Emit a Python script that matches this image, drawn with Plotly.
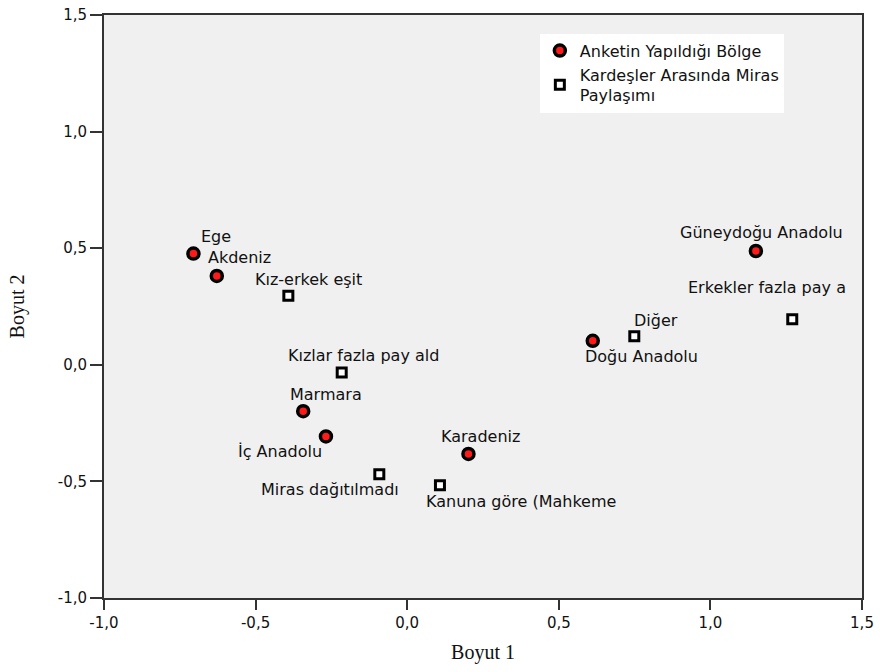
import plotly.graph_objects as go

# Region points (Anketin Yapıldığı Bölge)
region_names = ["Ege", "Akdeniz", "Marmara", "İç Anadolu", "Karadeniz",
                "Doğu Anadolu", "Güneydoğu Anadolu"]
region_x = [-0.705, -0.628, -0.343, -0.268, 0.202, 0.612, 1.150]
region_y = [0.477, 0.381, -0.199, -0.307, -0.382, 0.103, 0.488]

# Inheritance sharing points (Kardeşler Arasında Miras Paylaşımı)
share_names = ["Kız-erkek eşit", "Kızlar fazla pay ald", "Miras dağıtılmadı",
               "Kanuna göre (Mahkeme", "Diğer", "Erkekler fazla pay a"]
share_x = [-0.392, -0.216, -0.092, 0.108, 0.749, 1.270]
share_y = [0.296, -0.033, -0.469, -0.516, 0.122, 0.195]

tick_vals = [-1.0, -0.5, 0.0, 0.5, 1.0, 1.5]
tick_text = ["-1,0", "-0,5", "0,0", "0,5", "1,0", "1,5"]

# label offsets in pixels (dx right, dy down) relative to marker
region_off = [(23, -17), (23, -18), (23, -17), (-46, 15), (12, -17), (49, 16), (6, -19)]
share_off = [(20, -16), (22, -17), (-49, 15), (81, 16), (22, -16), (-25, -32)]

FONT = "DejaVu Sans"

fig = go.Figure()
fig.add_trace(go.Scatter(
    x=region_x, y=region_y, mode="markers", name="Anketin Yapıldığı Bölge",
    marker=dict(symbol="circle", size=11, color="#ff1a1a",
                line=dict(color="black", width=3.5)),
    cliponaxis=False,
))
fig.add_trace(go.Scatter(
    x=share_x, y=share_y, mode="markers", name="Kardeşler Arasında Miras<br>Paylaşımı",
    marker=dict(symbol="square", size=9, color="white",
                line=dict(color="black", width=3)),
    cliponaxis=False,
))

for names, xs, ys, offs in [(region_names, region_x, region_y, region_off),
                            (share_names, share_x, share_y, share_off)]:
    for n, x, y, (dx, dy) in zip(names, xs, ys, offs):
        fig.add_annotation(x=x, y=y, text=n, showarrow=False,
                           xanchor="center", yanchor="middle",
                           xshift=dx, yshift=-dy,
                           font=dict(family=FONT, size=16, color="#111"))

axis_common = dict(
    showgrid=False, zeroline=False, showline=True, linecolor="#333",
    linewidth=2, mirror=True, ticks="outside", tickwidth=2, tickcolor="#333",
    tickvals=tick_vals, ticktext=tick_text, ticklabeloverflow="allow",
    tickfont=dict(family=FONT, size=15, color="#111"),
)

fig.update_layout(
    width=880, height=672,
    margin=dict(l=104, r=18, t=6, b=74),
    paper_bgcolor="white", plot_bgcolor="#f0f0f0",
    xaxis=dict(range=[-1.0, 1.5], ticklen=10,
               title=dict(text="Boyut 1", standoff=14,
                          font=dict(family="Liberation Serif", size=20, color="#111")),
               **axis_common),
    yaxis=dict(range=[-1.0, 1.5], ticklen=12,
               title=dict(text="Boyut 2", standoff=28,
                          font=dict(family="Liberation Serif", size=20, color="#111")),
               **axis_common),
    legend=dict(x=0.575, y=0.968, xanchor="left", yanchor="top",
                bgcolor="white", borderwidth=0,
                font=dict(family=FONT, size=16, color="#111"),
                itemwidth=30, tracegroupgap=2),
    showlegend=True,
)

fig.write_html("out.html", config={"displayModeBar": False},
               post_script="document.body.style.margin='0';")
